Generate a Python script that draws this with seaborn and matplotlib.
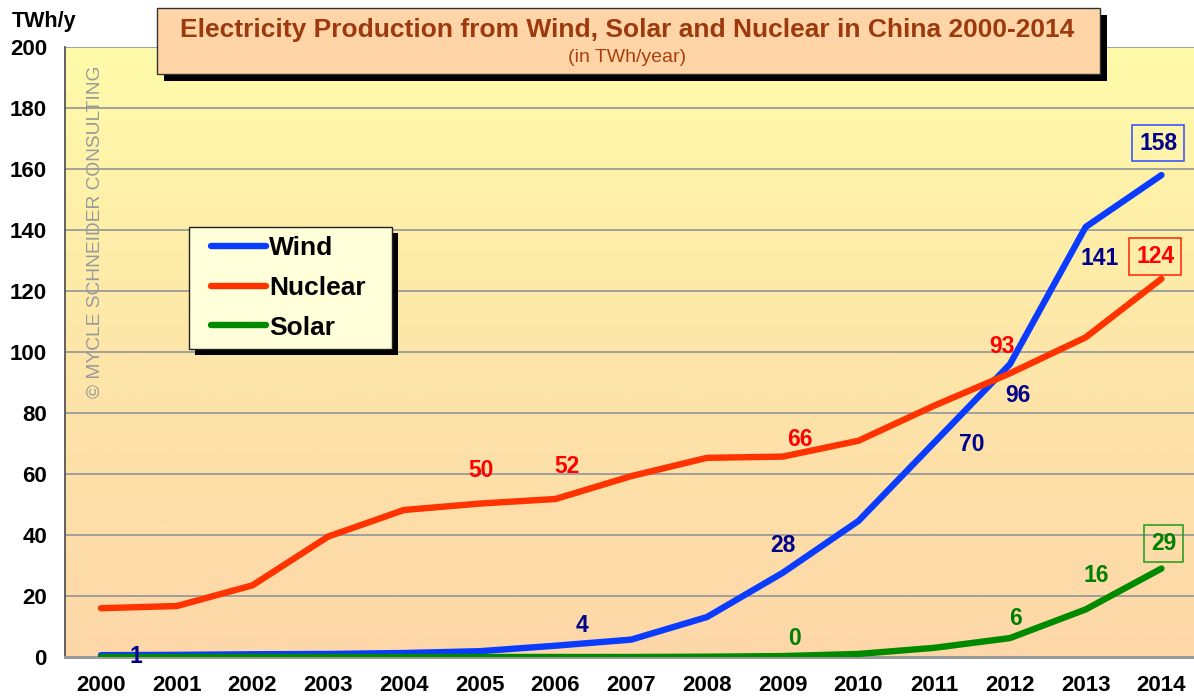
import numpy as np
import pandas as pd
import matplotlib
matplotlib.use("Agg")
import matplotlib.pyplot as plt
import seaborn as sns
from matplotlib.colors import LinearSegmentedColormap
from matplotlib.patches import Rectangle
from matplotlib.lines import Line2D

# ---------------- data ----------------
years = list(range(2000, 2015))
wind = [0.6, 0.7, 0.9, 1.0, 1.3, 1.9, 3.7, 5.7, 13.1, 27.6, 44.6, 70.3, 96, 141, 158]
nuclear = [16.0, 16.7, 23.5, 39.5, 48.2, 50.3, 51.8, 59.3, 65.3, 65.7, 70.9, 82.4, 93, 104.8, 124]
solar = [0.0, 0.0, 0.0, 0.0, 0.0, 0.0, 0.0, 0.0, 0.1, 0.3, 1.0, 3.0, 6.2, 15.6, 29]
series_names = ["Wind", "Nuclear", "Solar"]
yticks = list(range(0, 201, 20))
title = "Electricity Production from Wind, Solar and Nuclear in China 2000-2014"
subtitle = "(in TWh/year)"
unit_label = "TWh/y"
watermark = "© MYCLE SCHNEIDER CONSULTING"

# labelled points (index into years)
wind_label_idx = [0, 6, 9, 11, 12, 13, 14]
nuclear_label_idx = [5, 6, 9, 12, 14]
solar_label_idx = [9, 12, 13, 14]

# ---------------- styles / layout ----------------
line_colors = {"Wind": "#0A3CFF", "Nuclear": "#FF3300", "Solar": "#008A00"}
label_colors = {"Wind": "#00008B", "Nuclear": "#FF0000", "Solar": "#008000"}
box_colors = {"Wind": "#2A4BFF", "Nuclear": "#FF2200", "Solar": "#1A9A1A"}
# label offsets in pixels (dx, dy up)
wind_off = [(35, -1), (27, 20), (0, 27), (38, -2), (8, -31), (14, -32), (-3, 32)]
nuclear_off = [(1, 33), (12, 33), (17, 17), (-8, 27), (-6, 22)]
solar_off = [(12, 18), (6, 20), (11, 34), (2, 25)]

W, H = 1194, 697
sns.set_theme(style="white")
plt.rcParams["font.family"] = ["Liberation Sans", "DejaVu Sans"]

fig = plt.figure(figsize=(W / 100, H / 100), dpi=100)
fig.patch.set_facecolor("white")
ax_left, ax_top, ax_bottom = 65, 47, 657
ax = fig.add_axes([ax_left / W, (H - ax_bottom) / H, (W - ax_left) / W, (ax_bottom - ax_top) / H])

x0 = years[0] - 0.475
x1 = years[-1] + 0.43
ax.set_xlim(x0, x1)
ax.set_ylim(0, 200)

# gradient background
cmap = LinearSegmentedColormap.from_list("bg", ["#FFFBAA", "#FDE6A8", "#FDD7A8"])
ax.imshow(np.linspace(0, 1, 256).reshape(-1, 1), cmap=cmap, aspect="auto",
          extent=(x0, x1, 0, 200), zorder=0, origin="upper")

# grid
for yv in yticks[1:]:
    ax.axhline(yv, color="#9A9A9A", lw=1.3, zorder=1)

df = pd.DataFrame({
    "year": years * 3,
    "value": wind + nuclear + solar,
    "source": ["Wind"] * len(years) + ["Nuclear"] * len(years) + ["Solar"] * len(years),
})
sns.lineplot(data=df, x="year", y="value", hue="source", hue_order=series_names,
             palette=line_colors, linewidth=4.6, legend=False, ax=ax,
             solid_capstyle="round", solid_joinstyle="round", zorder=3)

ax.set_xticks(years)
ax.set_xticklabels([str(y) for y in years])
ax.set_yticks(yticks)
ax.set_yticklabels([str(v) for v in yticks])
ax.tick_params(axis="x", length=0, pad=13, labelsize=16)
ax.tick_params(axis="y", direction="in", length=6, width=1.2, color="#555555", pad=13, labelsize=16)
for lab in ax.get_xticklabels() + ax.get_yticklabels():
    lab.set_fontweight("bold")
    lab.set_color("black")
ax.set_xlabel("")
ax.set_ylabel("")
ax.grid(False)
for s in ["top", "right"]:
    ax.spines[s].set_visible(False)
ax.spines["left"].set_color("#555555")
ax.spines["left"].set_linewidth(1.3)
ax.spines["bottom"].set_color("#9A9A9A")
ax.spines["bottom"].set_linewidth(2.2)
ax.set_zorder(0)


def add_labels(name, values, idxs, offs, box_last):
    for k, (i, (dx, dy)) in enumerate(zip(idxs, offs)):
        bbox = None
        if box_last and k == len(idxs) - 1:
            bbox = dict(boxstyle="square,pad=0.3", fc="none", ec=box_colors[name], lw=1.1)
        ax.annotate(f"{values[i]:.0f}", xy=(years[i], values[i]), xytext=(dx, dy),
                    textcoords="offset pixels", ha="center", va="center",
                    fontsize=16.5, fontweight="bold", color=label_colors[name],
                    bbox=bbox, zorder=5)


add_labels("Wind", wind, wind_label_idx, wind_off, True)
add_labels("Nuclear", nuclear, nuclear_label_idx, nuclear_off, True)
add_labels("Solar", solar, solar_label_idx, solar_off, True)


def px_rect(x_a, y_a, x_b, y_b, **kw):
    r = Rectangle((x_a / W, 1 - y_b / H), (x_b - x_a) / W, (y_b - y_a) / H,
                  transform=fig.transFigure, **kw)
    fig.add_artist(r)
    return r


# title box
sh = 7
px_rect(157 + sh, 8 + sh, 1100 + sh, 74 + sh, fc="black", ec="none", zorder=2)
px_rect(157, 8, 1100, 74, fc="#FFD5A8", ec="#333333", lw=1, zorder=2.1)
fig.text(627 / W, 1 - 30 / H, title, ha="center", va="center", fontsize=19,
         fontweight="bold", color="#9C3A0E", zorder=3)
fig.text(627 / W, 1 - 58 / H, subtitle, ha="center", va="center", fontsize=14,
         color="#A8400F", zorder=3)

# legend box
lsh = 6
px_rect(189 + lsh, 227 + lsh, 392 + lsh, 349 + lsh, fc="black", ec="none", zorder=2)
px_rect(189, 227, 392, 349, fc="#FFFFDA", ec="#222222", lw=1, zorder=2.1)
handles = [Line2D([0], [0], color=line_colors[n], lw=4.6, solid_capstyle="round") for n in series_names]
leg = fig.legend(handles, series_names, loc="upper left",
                 bbox_to_anchor=(211 / W, 1 - 236 / H), bbox_transform=fig.transFigure,
                 frameon=False, borderpad=0, borderaxespad=0, handlelength=2.1,
                 handletextpad=0.1, labelspacing=0.6,
                 prop={"weight": "bold", "size": 19})
leg.set_zorder(4)
for t in leg.get_texts():
    t.set_color("black")

# unit label and watermark
fig.text(12 / W, 1 - 21 / H, unit_label, ha="left", va="center", fontsize=15.5,
         fontweight="bold", color="black")
fig.text(95 / W, 1 - 232 / H, watermark, ha="center", va="center", rotation=90,
         fontsize=13.8, color="#9A9A9A", zorder=3)

fig.savefig("out.png", dpi=100, facecolor="white")
